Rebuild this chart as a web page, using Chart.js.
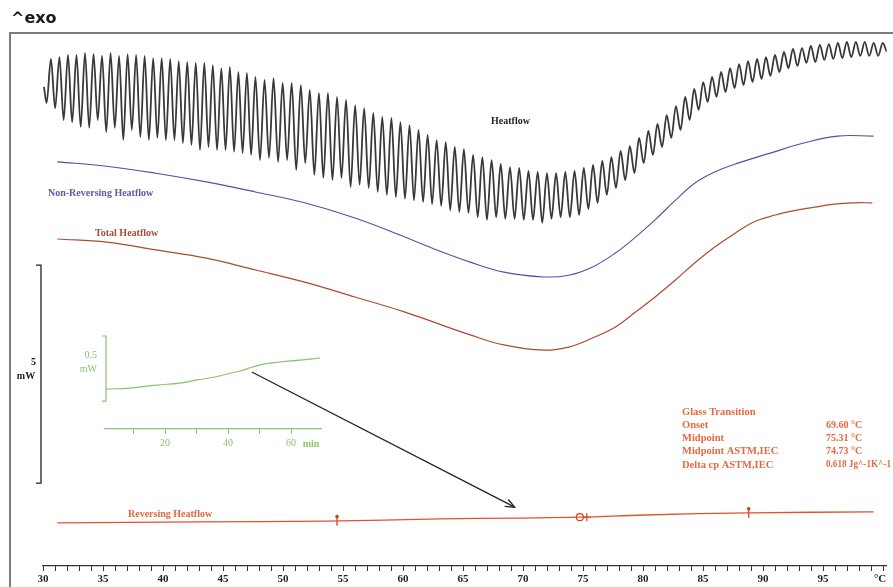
<!DOCTYPE html>
<html lang="en">
<head>
<meta charset="UTF-8">
<title>Heatflow - Glass Transition</title>
<script src="https://cdn.jsdelivr.net/npm/chart.js"></script>
<style>
    body {
        margin: 0;
        padding: 0;
        background: #ffffff;
    }

    .wrap {
        position: relative;
        width: 893px;
        height: 587px;
    }

    .wrap canvas {
        position: absolute;
        left: 0;
        top: 0;
    }
</style>
</head>
<body>
<div class="wrap">
    <canvas id="mainChart" width="893" height="587"></canvas>
    <canvas id="insetChart" width="893" height="587"></canvas>
</div>

<script>
    // modulated heatflow, peaks and troughs (°C / mW)
    const heatflowT = [
        30.08, 30.30,
        30.66, 31.01, 31.37, 31.72, 32.08, 32.43, 32.79, 33.14, 33.50, 33.85, 34.21, 34.56, 34.92, 35.27,
        35.63, 35.98, 36.34, 36.69, 37.05, 37.40, 37.76, 38.11, 38.47, 38.82, 39.18, 39.53, 39.89, 40.24,
        40.60, 40.95, 41.31, 41.66, 42.02, 42.37, 42.73, 43.08, 43.44, 43.79, 44.15, 44.50, 44.86, 45.21,
        45.57, 45.92, 46.28, 46.63, 46.99, 47.34, 47.70, 48.08,
        48.46, 48.83, 49.21, 49.59, 49.97, 50.34, 50.72, 51.10, 51.48, 51.85, 52.23, 52.61, 52.99, 53.36,
        53.74, 54.12, 54.50, 54.87, 55.25, 55.63, 56.01, 56.38, 56.76, 57.14, 57.52, 57.89, 58.27, 58.65,
        59.03, 59.40, 59.78, 60.16, 60.54, 60.91, 61.29, 61.67, 62.05, 62.42, 62.80, 63.18, 63.56, 63.93,
        64.31, 64.69, 65.07, 65.45,
        65.84, 66.22, 66.61, 66.99, 67.38, 67.76, 68.14, 68.52, 68.91, 69.29, 69.68, 70.06, 70.45, 70.83,
        71.22, 71.60, 71.99, 72.37, 72.75, 73.13, 73.52, 73.90, 74.29, 74.67, 75.06, 75.44, 75.83, 76.21,
        76.60, 76.98, 77.36, 77.74, 78.13, 78.51, 78.90, 79.28, 79.67, 80.05, 80.44, 80.82, 81.20, 81.58,
        81.97, 82.35, 82.74, 83.12, 83.51, 83.88,
        84.26, 84.63, 85.01, 85.38, 85.75, 86.12, 86.50, 86.87, 87.25, 87.62, 88.00, 88.37, 88.75, 89.12,
        89.50, 89.87, 90.24, 90.61, 90.99, 91.36, 91.74, 92.11, 92.49, 92.86, 93.24, 93.61, 93.98, 94.35,
        94.73, 95.10, 95.48, 95.85, 96.23, 96.60, 96.98, 97.35, 97.73, 98.10, 98.47, 98.84, 99.22, 99.59,
        99.97, 100.30
    ];
    const heatflowMW = [
        10.99, 10.62,
        11.63, 10.50, 11.67, 10.23, 11.72, 10.18, 11.72, 10.07, 11.77, 10.05, 11.74, 10.23, 11.70, 9.95,
        11.77, 10.05, 11.70, 9.77, 11.74, 10.00, 11.72, 9.84, 11.70, 9.77, 11.65, 9.82, 11.65, 9.77,
        11.63, 9.77, 11.58, 9.70, 11.56, 9.66, 11.54, 9.54, 11.54, 9.61, 11.49, 9.54, 11.42, 9.54,
        11.45, 9.50, 11.33, 9.47, 11.31, 9.43, 11.22, 9.31,
        11.15, 9.36, 11.19, 9.27, 11.08, 9.31, 11.08, 9.08, 11.03, 9.24, 10.92, 8.97, 10.85, 8.90,
        10.85, 8.85, 10.76, 8.90, 10.69, 8.69, 10.57, 8.74, 10.50, 8.67, 10.39, 8.58, 10.30, 8.51,
        10.28, 8.46, 10.18, 8.42, 10.11, 8.39, 10.00, 8.35, 9.89, 8.30, 9.77, 8.26, 9.72, 8.16,
        9.61, 8.12, 9.56, 8.10,
        9.43, 8.00, 9.38, 7.94, 9.31, 8.00, 9.22, 7.96, 9.15, 7.96, 9.13, 7.94, 9.06, 7.94,
        9.04, 7.87, 9.01, 7.96, 9.01, 8.00, 9.04, 8.00, 9.06, 8.05, 9.13, 8.19, 9.20, 8.33,
        9.29, 8.51, 9.38, 8.67, 9.52, 8.85, 9.63, 9.01, 9.82, 9.24, 9.98, 9.43, 10.14, 9.61,
        10.34, 9.82, 10.55, 10.00, 10.76, 10.23,
        10.94, 10.46, 11.10, 10.64, 11.22, 10.76, 11.33, 10.87, 11.42, 10.96, 11.51, 11.03, 11.58, 11.10,
        11.63, 11.17, 11.67, 11.24, 11.72, 11.33, 11.79, 11.42, 11.86, 11.47, 11.88, 11.54, 11.93, 11.56,
        11.95, 11.61, 11.97, 11.63, 12.00, 11.65, 12.02, 11.67, 12.02, 11.70, 12.02, 11.70, 12.00, 11.70,
        12.00, 11.79
    ];

    const nonRevT = [31.2, 35.3, 39.4, 43.6, 47.7, 51.8, 56.0, 60.1, 62.8, 65.6, 68.4, 71.7, 73.8,
        75.8, 77.7, 79.4, 81.0, 82.7, 84.3, 86.0, 87.9, 90.6, 93.4, 96.2, 99.2];
    const nonRevMW = [9.27, 9.17, 9.01, 8.81, 8.58, 8.33, 7.98, 7.55, 7.25, 6.97, 6.74, 6.63, 6.67,
        6.86, 7.18, 7.55, 7.94, 8.39, 8.78, 9.04, 9.24, 9.47, 9.70, 9.86, 9.86];

    const totalT = [31.2, 35.3, 39.4, 43.6, 47.7, 51.8, 56.0, 60.1, 62.8, 65.6, 68.4, 71.7, 73.8,
        75.8, 77.7, 79.4, 81.0, 82.7, 84.3, 86.0, 87.7, 89.3, 91.0, 92.6, 94.3, 95.9, 97.6, 99.1];
    const totalMW = [7.50, 7.43, 7.25, 7.06, 6.79, 6.51, 6.17, 5.83, 5.57, 5.30, 5.07, 4.95, 5.02,
        5.23, 5.48, 5.83, 6.17, 6.56, 6.95, 7.32, 7.64, 7.90, 8.05, 8.15, 8.23, 8.30, 8.33, 8.33];

    const revT = [31.2, 43.0, 53.7, 63.1, 69.5, 74.7, 80.2, 88.9, 99.2];
    const revMW = [0.99, 1.01, 1.03, 1.08, 1.10, 1.12, 1.17, 1.22, 1.24];

    // glass transition evaluation marks on the reversing curve
    const limitT = [54.5, 88.8];
    const limitMW = [1.04, 1.22];
    const midAstmT = [74.73];
    const midAstmMW = [1.12];
    const midT = [75.31];
    const midMW = [1.12];

    const arrowT = [47.4, 69.3];
    const arrowMW = [4.45, 1.35];

    const scaleBarMW = [1.9, 6.9];

    const xLabelValues = [30, 35, 40, 45, 50, 55, 60, 65, 70, 75, 80, 85, 90, 95];
    const xLabels = ['30', '35', '40', '45', '50', '55', '60', '65', '70', '75', '80', '85', '90', '95'];
    const xUnit = '°C';

    const glassRows = [
        ['Glass Transition', ''],
        ['Onset', '69.60 °C'],
        ['Midpoint', '75.31 °C'],
        ['Midpoint ASTM,IEC', '74.73 °C'],
        ['Delta cp ASTM,IEC', '0.618 Jg^-1K^-1']
    ];

    // inset: reversing heatflow against time
    const insetTime = [1.3, 8.9, 17.5, 24.8, 30.2, 35.9, 39.7, 43.8, 47.9, 51.7, 56.5, 62.9, 69.2];
    const insetMW = [0.092, 0.100, 0.123, 0.138, 0.162, 0.185, 0.208, 0.231, 0.262, 0.285, 0.300, 0.315, 0.331];
    const insetTicks = [10, 20, 30, 40, 50, 60];
    const insetLabels = { 20: '20', 40: '40', 60: '60' };
    const insetBarMW = [0, 0.5];

    const GREEN = '#8bc26d';
    const SERIF = '"Liberation Serif", "Times New Roman", serif';

    function pts(xs, ys) {
        return xs.map((v, i) => ({ x: v, y: ys[i] }));
    }

    function text(ctx, str, x, y, color, font, align, maxW) {
        ctx.fillStyle = color;
        ctx.font = font;
        ctx.textAlign = align || 'left';
        ctx.textBaseline = 'middle';
        if (maxW) ctx.fillText(str, x, y, maxW);
        else ctx.fillText(str, x, y);
    }

    const minorTicks = [];
    for (let t = 30; t <= 100; t++) minorTicks.push(t);

    const decorations = {
        id: 'decorations',
        beforeDraw(chart) {
            const ctx = chart.ctx;
            ctx.save();
            ctx.fillStyle = '#ffffff';
            ctx.fillRect(0, 0, chart.width, chart.height);
            ctx.restore();
        },
        afterDatasetsDraw(chart) {
            const { ctx, chartArea, scales: { x, y } } = chart;
            ctx.save();

            // frame
            ctx.strokeStyle = '#7d7d7d';
            ctx.lineWidth = 2;
            ctx.beginPath();
            ctx.moveTo(10, chart.height);
            ctx.lineTo(10, chartArea.top);
            ctx.lineTo(chart.width, chartArea.top);
            ctx.stroke();

            text(ctx, '^exo', 11, 19, '#1a1a1a', 'bold 16px "DejaVu Sans", sans-serif');

            const lbl = 'bold 10px ' + SERIF;
            text(ctx, 'Heatflow', 491, 121, '#1e1e1e', lbl);
            text(ctx, 'Non-Reversing Heatflow', 48, 193, '#5a5aa6', lbl);
            text(ctx, 'Total Heatflow', 95, 233, '#a54a38', lbl);
            text(ctx, 'Reversing Heatflow', 128, 514, '#e0663e', lbl);

            // glass transition table
            const gFont = 'bold 10.5px ' + SERIF;
            const vFont = 'bold 10px ' + SERIF;
            glassRows.forEach((row, i) => {
                const ty = 412 + i * 13.2;
                text(ctx, row[0], 682, ty, '#e46a42', gFont);
                if (row[1]) text(ctx, row[1], 826, ty, '#e46a42', vFont, 'left', 65);
            });

            // unit in place of the last tick label
            text(ctx, xUnit, x.getPixelForValue(100) - 3, chartArea.bottom + 13, '#222',
                'bold 11px ' + SERIF, 'center');

            // 5 mW scale bar
            const yTop = y.getPixelForValue(scaleBarMW[1]);
            const yBot = y.getPixelForValue(scaleBarMW[0]);
            ctx.strokeStyle = '#222';
            ctx.lineWidth = 1.3;
            ctx.beginPath();
            ctx.moveTo(36, yTop);
            ctx.lineTo(41, yTop);
            ctx.lineTo(41, yBot);
            ctx.lineTo(36, yBot);
            ctx.stroke();
            const mid = (yTop + yBot) / 2;
            text(ctx, '5', 36, mid - 12, '#1e1e1e', lbl, 'right');
            text(ctx, 'mW', 26, mid + 2, '#1e1e1e', lbl, 'center');

            // arrow head
            const a = chart.getDatasetMeta(4).data;
            if (a.length === 2) {
                const ang = Math.atan2(a[1].y - a[0].y, a[1].x - a[0].x);
                ctx.strokeStyle = '#222';
                ctx.lineWidth = 1.3;
                ctx.beginPath();
                ctx.moveTo(a[1].x - 10 * Math.cos(ang - 0.4), a[1].y - 10 * Math.sin(ang - 0.4));
                ctx.lineTo(a[1].x, a[1].y);
                ctx.lineTo(a[1].x - 10 * Math.cos(ang + 0.4), a[1].y - 10 * Math.sin(ang + 0.4));
                ctx.stroke();
            }

            // flag heads on the limit marks
            ctx.fillStyle = '#d8401e';
            chart.getDatasetMeta(5).data.forEach(el => {
                ctx.beginPath();
                ctx.arc(el.x, el.y - 4, 1.8, 0, Math.PI * 2);
                ctx.fill();
            });

            ctx.restore();
        }
    };

    new Chart(document.getElementById('mainChart'), {
        type: 'line',
        data: {
            datasets: [
                {
                    label: 'Heatflow',
                    data: pts(heatflowT, heatflowMW),
                    borderColor: '#383838',
                    borderWidth: 1.8,
                    pointRadius: 0,
                    cubicInterpolationMode: 'monotone'
                },
                {
                    label: 'Non-Reversing Heatflow',
                    data: pts(nonRevT, nonRevMW),
                    borderColor: '#5050a8',
                    borderWidth: 1.1,
                    pointRadius: 0,
                    tension: 0.4
                },
                {
                    label: 'Total Heatflow',
                    data: pts(totalT, totalMW),
                    borderColor: '#ad4a30',
                    borderWidth: 1.2,
                    pointRadius: 0,
                    tension: 0.4
                },
                {
                    label: 'Reversing Heatflow',
                    data: pts(revT, revMW),
                    borderColor: '#e2532b',
                    borderWidth: 1.3,
                    pointRadius: 0,
                    tension: 0.4
                },
                {
                    label: 'arrow',
                    data: pts(arrowT, arrowMW),
                    borderColor: '#222',
                    borderWidth: 1.3,
                    pointRadius: 0
                },
                {
                    label: 'limits',
                    data: pts(limitT, limitMW),
                    showLine: false,
                    pointStyle: 'line',
                    rotation: 90,
                    pointRadius: 5,
                    borderColor: '#d8401e',
                    borderWidth: 1.3
                },
                {
                    label: 'Midpoint ASTM,IEC',
                    data: pts(midAstmT, midAstmMW),
                    showLine: false,
                    pointStyle: 'circle',
                    pointRadius: 3.5,
                    backgroundColor: 'rgba(0,0,0,0)',
                    borderColor: '#d8401e',
                    borderWidth: 1.2
                },
                {
                    label: 'Midpoint',
                    data: pts(midT, midMW),
                    showLine: false,
                    pointStyle: 'cross',
                    pointRadius: 4,
                    borderColor: '#d8401e',
                    borderWidth: 1.2
                }
            ]
        },
        options: {
            responsive: false,
            animation: false,
            events: [],
            layout: { padding: { left: 43, right: 0, top: 33, bottom: 0 } },
            plugins: {
                legend: { display: false },
                tooltip: { enabled: false }
            },
            scales: {
                x: {
                    type: 'linear',
                    min: 30,
                    max: 100.3,
                    afterBuildTicks(scale) {
                        scale.ticks = minorTicks.map(v => ({ value: v }));
                    },
                    afterFit(scale) {
                        scale.height = 21;
                        scale.paddingLeft = 0;
                        scale.paddingRight = 0;
                    },
                    ticks: {
                        autoSkip: false,
                        maxRotation: 0,
                        padding: 2,
                        color: '#222',
                        font: { family: SERIF, weight: 'bold', size: 11 },
                        callback(value) {
                            const i = xLabelValues.indexOf(value);
                            return i >= 0 ? xLabels[i] : '';
                        }
                    },
                    grid: {
                        drawOnChartArea: false,
                        tickLength: 5,
                        color: '#333'
                    },
                    border: { color: '#333', width: 1.2 }
                },
                y: {
                    display: false,
                    min: 0,
                    max: 12.225
                }
            }
        },
        plugins: [decorations]
    });

    const insetDecor = {
        id: 'insetDecor',
        afterDraw(chart) {
            const { ctx, chartArea, scales: { x, y } } = chart;
            ctx.save();
            const top = y.getPixelForValue(insetBarMW[1]);
            const bot = y.getPixelForValue(insetBarMW[0]);
            const bx = chartArea.left + 1;
            ctx.strokeStyle = GREEN;
            ctx.lineWidth = 1.2;
            ctx.beginPath();
            ctx.moveTo(bx - 4, top);
            ctx.lineTo(bx, top);
            ctx.lineTo(bx, bot);
            ctx.lineTo(bx - 4, bot);
            ctx.stroke();
            const f = '10px ' + SERIF;
            text(ctx, '0.5', bx - 9, top + 19, GREEN, f, 'right');
            text(ctx, 'mW', bx - 9, top + 33, GREEN, f, 'right');
            text(ctx, 'min', x.getPixelForValue(60) + 20, chartArea.bottom + 15, GREEN, 'bold 10px ' + SERIF, 'center');
            ctx.restore();
        }
    };

    new Chart(document.getElementById('insetChart'), {
        type: 'line',
        data: {
            datasets: [{
                label: 'Reversing Heatflow (time)',
                data: pts(insetTime, insetMW),
                borderColor: GREEN,
                borderWidth: 1.2,
                pointRadius: 0,
                tension: 0.4
            }]
        },
        options: {
            responsive: false,
            animation: false,
            events: [],
            layout: { padding: { left: 105, right: 572, top: 336, bottom: 138 } },
            plugins: {
                legend: { display: false },
                tooltip: { enabled: false }
            },
            scales: {
                x: {
                    type: 'linear',
                    min: 0.95,
                    max: 69.5,
                    afterBuildTicks(scale) {
                        scale.ticks = insetTicks.map(v => ({ value: v }));
                    },
                    afterFit(scale) {
                        scale.height = 20;
                        scale.paddingLeft = 0;
                        scale.paddingRight = 0;
                    },
                    ticks: {
                        autoSkip: false,
                        maxRotation: 0,
                        padding: 3,
                        color: GREEN,
                        font: { family: SERIF, size: 10 },
                        callback(value) {
                            return insetLabels[value] || '';
                        }
                    },
                    grid: {
                        drawOnChartArea: false,
                        tickLength: 5,
                        color: GREEN
                    },
                    border: { color: GREEN, width: 1.2 }
                },
                y: {
                    display: false,
                    min: -0.215,
                    max: 0.5
                }
            }
        },
        plugins: [insetDecor]
    });
</script>
</body>
</html>
